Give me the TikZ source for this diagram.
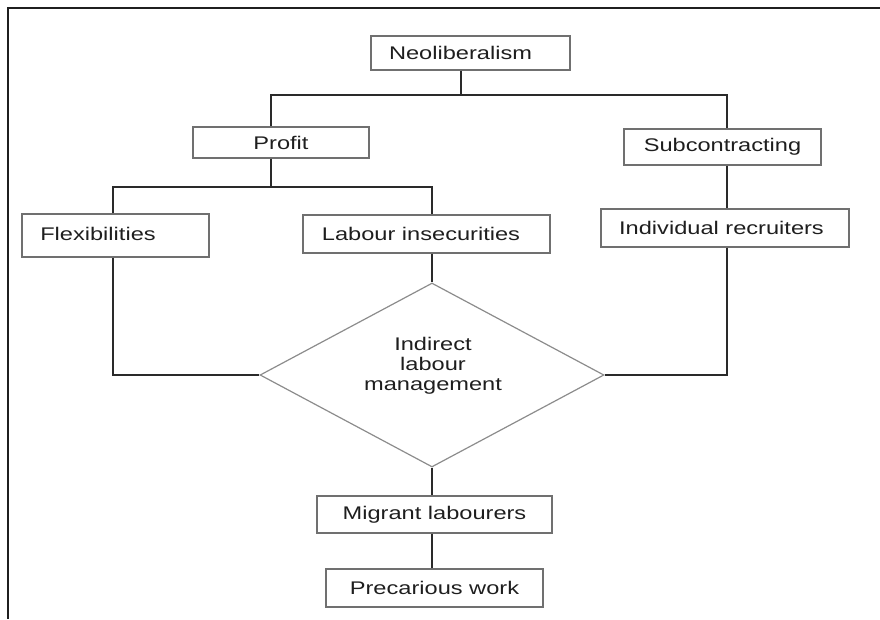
\documentclass[tikz,border=0pt]{standalone}
\usepackage{fontspec}
\setmainfont{Liberation Sans}[FakeStretch=1.29]
\usetikzlibrary{shapes.geometric}

\definecolor{boxline}{HTML}{707070}
\definecolor{diamline}{HTML}{8C8C8C}
\definecolor{linkline}{HTML}{2A2A2A}
\definecolor{txt}{HTML}{1E1E1E}

\tikzset{
  box/.style={draw=boxline, line width=1.3pt, rectangle, inner sep=0pt,
              text=txt, font=\fontsize{18.3}{20}\selectfont},
  decision/.style={draw=diamline, line width=1.2pt, diamond, aspect=2,
              inner sep=0pt, minimum width=344pt, minimum height=184pt},
  caption/.style={align=center, text=txt, font=\fontsize{18.3}{20}\selectfont},
  link/.style={draw=linkline, line width=2pt},
  frame/.style={draw=black!88, line width=2.4pt}
}

\begin{document}
\begin{tikzpicture}[x=1pt, y=-1pt]
  \useasboundingbox (0,0) rectangle (880,619);

  % open frame: top and left rules
  \draw[frame] (880,8) -- (8,8) -- (8,619);

  % boxes
  \node[box, minimum width=199pt, minimum height=34pt] (neo)  at (470.5,53)    {\hspace*{-20pt}Neoliberalism};
  \node[box, minimum width=176pt, minimum height=31pt] (prof) at (281,142.5)   {Profit};
  \node[box, minimum width=197pt, minimum height=36pt] (sub)  at (722.5,147)   {Subcontracting};
  \node[box, minimum width=187pt, minimum height=43pt] (flex) at (115.5,235.5) {\hspace*{-35pt}\raisebox{3pt}{Flexibilities}};
  \node[box, minimum width=247pt, minimum height=38pt] (lab)  at (426.5,234)   {\hspace*{-11pt}Labour insecurities};
  \node[box, minimum width=248pt, minimum height=38pt] (ind)  at (725,228)     {\hspace*{-7pt}Individual recruiters};
  \node[box, minimum width=235pt, minimum height=37pt] (mig)  at (434.5,514.5) {Migrant labourers};
  \node[box, minimum width=217pt, minimum height=38pt] (pre)  at (434.5,588)   {Precarious work};

  % central decision
  \node[decision] (ilm) at (432,375) {};
  \node[caption] (ilmtext) at (433,366) {Indirect\\labour\\management};

  % junction points of the tree
  \coordinate (j0)  at (461,95);
  \coordinate (jl)  at (271,95);
  \coordinate (jr)  at (727,95);
  \coordinate (j1)  at (271,187);
  \coordinate (jf)  at (113,187);
  \coordinate (jli) at (432,187);

  % connectors
  \draw[link] (j0 |- neo.south) -- (j0);
  \draw[link] (jl |- prof.north) -- (jl) -- (jr) -- (jr |- sub.north);
  \draw[link] (j1 |- prof.south) -- (j1);
  \draw[link] (jf |- flex.north) -- (jf) -- (jli) -- (jli |- lab.north);
  \draw[link] (jli |- lab.south) -- (ilm.north);
  \draw[link] (jr |- sub.south) -- (jr |- ind.north);
  \draw[link] (jr |- ind.south) -- (jr |- ilm.east) -- (ilm.east);
  \draw[link] (jf |- flex.south) -- (jf |- ilm.west) -- (ilm.west);
  \draw[link] (ilm.south) -- (ilm.south |- mig.north);
  \draw[link] (ilm.south |- mig.south) -- (ilm.south |- pre.north);
\end{tikzpicture}
\end{document}
